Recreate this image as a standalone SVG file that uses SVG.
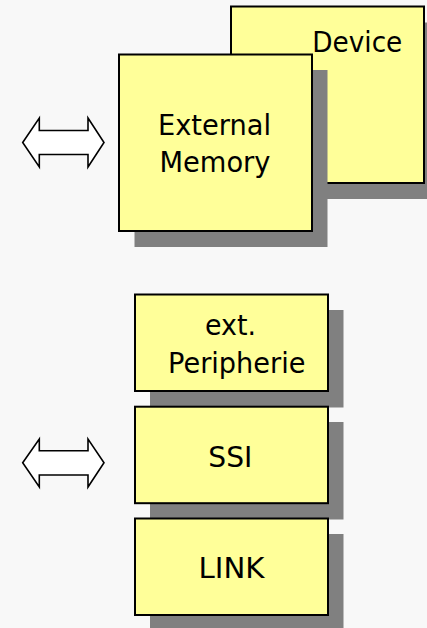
<svg xmlns="http://www.w3.org/2000/svg" width="427" height="628" viewBox="0 0 427 628">
  <style>
    .box { fill: #ffff99; stroke: #000; stroke-width: 2; }
    .shadow { fill: #808080; }
    .arrow { fill: #fff; stroke: #000; stroke-width: 1.6; stroke-linejoin: miter; }
    .label { font-family: "DejaVu Sans", "Verdana", sans-serif; font-size: 28.5px; fill: #000; }
  </style>
  <rect width="427" height="628" fill="#f8f8f8"/>

  <!-- double-headed bus arrows -->
  <g id="connectors">
    <path class="arrow" d="M22.7,142.5 L39.3,118 L39.3,130.5 L88,130.5 L88,118 L104,142.5 L88,167 L88,154.5 L39.3,154.5 L39.3,167 Z"/>
    <path class="arrow" d="M22.7,462.8 L39.3,439 L39.3,450.7 L88,450.7 L88,439 L104,462.8 L88,487 L88,475 L39.3,475 L39.3,487 Z"/>
  </g>

  <g id="device">
    <rect class="shadow" x="247" y="22.5" width="193" height="176.5"/>
    <rect class="box" x="231" y="6.5" width="193" height="176.5"/>
    <text class="label" x="312.3" y="52" textLength="90" lengthAdjust="spacingAndGlyphs">Device</text>
  </g>

  <g id="external-memory">
    <rect class="shadow" x="134.5" y="70" width="193" height="177"/>
    <rect class="box" x="119" y="54.5" width="193" height="176.5"/>
    <text class="label" x="158" y="135.3" textLength="113" lengthAdjust="spacingAndGlyphs">External</text>
    <text class="label" x="159.5" y="172" textLength="111" lengthAdjust="spacingAndGlyphs">Memory</text>
  </g>

  <g id="ext-peripherie">
    <rect class="shadow" x="150" y="310" width="193.5" height="97.5"/>
    <rect class="box" x="135" y="294.5" width="193" height="96.5"/>
    <text class="label" x="205" y="335" textLength="51" lengthAdjust="spacingAndGlyphs">ext.</text>
    <text class="label" x="168" y="373" textLength="137.5" lengthAdjust="spacingAndGlyphs">Peripherie</text>
  </g>

  <g id="ssi">
    <rect class="shadow" x="150" y="422" width="193.5" height="97.5"/>
    <rect class="box" x="135" y="406.7" width="193" height="96.5"/>
    <text class="label" x="208.3" y="466.5" textLength="44" lengthAdjust="spacingAndGlyphs">SSI</text>
  </g>

  <g id="link">
    <rect class="shadow" x="150" y="534" width="193.5" height="97.5"/>
    <rect class="box" x="135" y="518.5" width="193" height="96.5"/>
    <text class="label" x="198.5" y="578" textLength="66" lengthAdjust="spacingAndGlyphs">LINK</text>
  </g>
</svg>
